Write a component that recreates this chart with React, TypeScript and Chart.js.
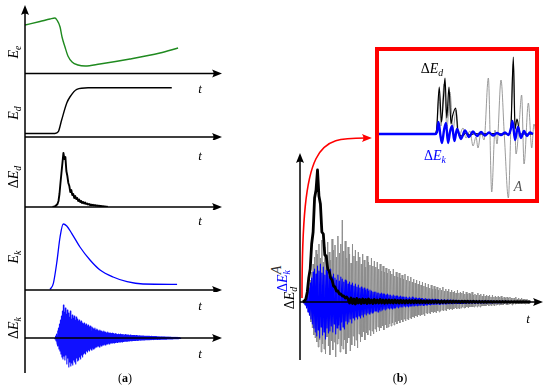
import React, { useEffect, useRef } from 'react';
import { Chart, registerables } from 'chart.js';
Chart.register(...registerables);

// ---------------- Panel (a) data (t in 0..100, values in arbitrary units) ----------------
const eeT = [0, 7.6, 12.7, 15.2, 16.2, 17.8, 18.8, 20.3, 21.8, 23.9, 26.9, 30.5, 38, 53.3, 68.5, 77.7];
const eeV = [48.5, 52, 54.5, 55.5, 53.5, 46.5, 36.5, 26.5, 17.5, 11.5, 8.5, 7.5, 9.5, 14.5, 20.5, 25.5];

const edT = [0, 15.2, 16.9, 18.6, 21.2, 22.8, 26.3, 32, 74.5];
const edV = [3.5, 3.5, 5.3, 17, 34, 40, 47.7, 49.3, 49.3];

const dEdT0 = 14;
const dEdDt = 0.5;
const dEdV = [0, 0.3, 0.6, 1, 2, 3, 6, 13, 24, 34, 44, 54, 48, 50, 36, 31, 24, 21, 15, 17, 12, 13, 9, 11, 8, 9, 6, 7.5, 5, 6,
  4, 5, 3.5, 4.5, 3, 3.5, 2.5, 3, 2, 2.5, 1.8, 2.2, 1.5, 2, 1.2, 1.6, 1, 1.3, 0.8, 1.1, 0.6, 0.9, 0.5, 0.6, 0.3, 0.4, 0];

const ekT = [12.7, 14.4, 16.1, 17.8, 19.4, 21.2, 23.7, 27.9, 33, 38.1, 44.7, 51.8, 59.9, 77.2];
const ekV = [0.5, 6.7, 27, 53, 66, 64, 56.7, 43, 30, 20, 13, 8.3, 6, 5.7];

const dEkT0 = 15;
const dEkDt = 0.25;
const dEkV = [
  0, -1, 2, -3, 4, -5, 7, -8, 10, -11, 14, -13, 18, -16, 22, -19, 27, -21, 33, -18,
  26, -22, 30, -17, 24, -26, 28, -20, 25, -29, 21, -24, 27, -28, 19, -25, 23, -27, 20, -22,
  22, -24, 18, -26, 21, -20, 19, -23, 17, -22, 18, -19, 16, -21, 17, -17, 15, -19, 14, -16,
  15, -15, 13, -16, 14, -13, 12, -14, 13, -12, 11, -13, 12, -11, 10, -12, 11, -10, 10, -11,
  9, -10, 10, -9, 8, -9, 9, -8, 8, -8, 7, -9, 8, -7, 7, -8, 7, -7, 6, -7,
  7, -6, 6, -7, 6, -6, 5, -6, 6, -5, 5, -6, 5, -5, 5, -5, 4.5, -5, 5, -4.5,
  4.5, -5, 4, -4.5, 4.5, -4, 4, -4.5, 3.5, -4, 4, -4, 3.5, -4, 4, -3.5, 3.5, -4, 3.5, -3.5,
  3.5, -3.5, 3, -3.5, 3.5, -3, 3, -3.5, 3, -3, 3, -3, 2.5, -3, 3, -2.5, 2.5, -3, 2.5, -2.5,
  2.5, -2.5, 2.5, -2.5, 2.2, -2.5, 2.5, -2.2, 2.2, -2.5, 2, -2.2, 2.2, -2, 2, -2.2, 2, -2, 2, -2,
  2, -2, 1.8, -2, 1.8, -1.8, 1.8, -1.8, 1.6, -1.8, 1.7, -1.7, 1.6, -1.8, 1.5, -1.6, 1.6, -1.6, 1.5, -1.5,
  1.5, -1.6, 1.4, -1.5, 1.5, -1.4, 1.4, -1.5, 1.3, -1.4, 1.4, -1.3, 1.3, -1.4, 1.2, -1.3, 1.3, -1.2, 1.2, -1.3,
  1.2, -1.2, 1.1, -1.2, 1.1, -1.1, 1, -1.1, 1, -1, 1, -1, 0.9, -1, 0.9, -0.9, 0.9, -0.9, 0.8, -0.9,
  0.8, -0.8, 0.8, -0.8, 0.7, -0.7, 0.7, -0.7, 0.6, -0.6, 0.6, -0.6, 0.5, -0.5, 0.5, -0.4, 0.3];

// ---------------- Panel (b) data ----------------
const bT0 = 1.2;
const bDt = 0.3;
const bGrayA = [
  1, -1, 2, -3, 4, -6, 8, -10, 15, -14, 22, -20, 30, -26, 38, -33, 45, -36, 52, -40,
  48, -45, 58, -38, 44, -50, 62, -42, 40, -47, 55, -52, 46, -35, 60, -44, 50, -53, 42, -39,
  63, -48, 52, -40, 57, -55, 45, -42, 66, -37, 49, -50, 58, -44, 82, -47, 51, -38, 61, -52,
  44, -41, 55, -36, 48, -49, 39, -43, 58, -34, 46, -44, 52, -38, 41, -46, 50, -32, 45, -40,
  38, -35, 48, -30, 42, -38, 35, -31, 46, -33, 40, -28, 37, -34, 44, -29, 36, -32, 41, -27,
  35, -30, 40, -25, 33, -29, 38, -26, 31, -24, 36, -28, 30, -23, 34, -26, 29, -25, 33, -22,
  31, -24, 28, -21, 33, -23, 26, -20, 30, -22, 25, -19, 29, -21, 24, -18, 27, -20, 23, -17,
  28, -19, 22, -17, 26, -18, 21, -16, 25, -17, 20, -15, 23, -16, 19, -14, 22, -15, 18, -13,
  21, -14, 17, -13, 20, -12, 16, -14, 19, -11, 15, -12, 18, -11, 14, -12, 17, -10, 13, -11,
  16, -10, 13, -11, 15, -9, 12, -10, 14, -9, 12, -8, 15, -9, 11, -8, 13, -9, 11, -7,
  13, -8, 10, -7, 12, -8, 10, -7, 11, -6, 9, -7, 12, -6, 9, -7, 10, -6, 9, -5,
  11, -6, 8, -6, 10, -5, 8, -6, 9, -5, 8, -5, 10, -5, 7, -5, 8, -4, 7, -5,
  9, -4, 7, -5, 8, -4, 6, -4, 8, -4, 6, -4, 7, -3, 6, -4, 7, -3, 5, -4,
  7, -3, 5, -4, 6, -3, 5, -3, 6, -3, 5, -3, 6, -3, 4, -3, 5, -2, 4, -3,
  5, -3, 4, -2, 5, -2, 4, -3, 4, -2, 4, -2, 5, -2, 3, -2, 4, -2, 3, -2,
  4, -2, 3, -1.5, 3, -2, 3, -1.5, 2.5, -1.5, 2, -1, 1];
const bBlueEk = [
  0, -1, 2, -3, 5, -6, 9, -10, 14, -13, 19, -17, 24, -22, 30, -26, 33, -30, 28, -34,
  36, -28, 31, -36, 38, -25, 29, -33, 35, -30, 27, -37, 32, -26, 30, -31, 26, -29, 33, -24,
  25, -30, 28, -22, 24, -32, 22, -26, 27, -23, 21, -28, 25, -20, 23, -25, 20, -27, 22, -19,
  21, -22, 18, -20, 20, -17, 17, -21, 19, -16, 16, -18, 18, -15, 15, -17, 17, -14, 14, -16,
  15, -13, 13, -15, 14, -12, 12, -13, 13, -11, 11, -12, 12, -10, 11, -11, 10, -10, 10, -9,
  10, -9, 9, -10, 9, -8, 8, -9, 9, -8, 8, -7, 8, -8, 7, -7, 8, -6, 7, -7,
  7, -6, 6, -7, 7, -6, 6, -6, 6, -5, 6, -6, 5, -5, 6, -5, 5, -5, 5, -4,
  5, -5, 5, -4, 4, -5, 5, -4, 4, -4, 5, -4, 4, -4, 4, -3.5, 4, -4, 3.5, -3.5,
  4, -3.5, 3.5, -3, 3.5, -3.5, 3, -3, 3.5, -3, 3, -3, 3, -2.5, 3, -3, 2.5, -2.5, 3, -2.5,
  2.5, -2.5, 3, -2.5, 2.5, -2, 2.5, -2.5, 2, -2, 2.5, -2, 2, -2, 2.5, -2, 2, -2, 2, -1.8,
  2, -1.8, 2, -1.6, 1.8, -1.8, 1.6, -1.6, 1.8, -1.5, 1.6, -1.6, 1.5, -1.5, 1.6, -1.4, 1.5, -1.5, 1.4, -1.4,
  1.5, -1.3, 1.4, -1.4, 1.3, -1.3, 1.4, -1.2, 1.3, -1.3, 1.2, -1.2, 1.3, -1.1, 1.2, -1.2, 1.1, -1.1, 1.2, -1,
  1.1, -1.1, 1, -1, 1.1, -1, 1, -1, 1, -0.9, 1, -0.9, 0.9, -0.9, 1, -0.8, 0.9, -0.9, 0.8, -0.8,
  0.9, -0.8, 0.8, -0.8, 0.8, -0.7, 0.8, -0.7, 0.7, -0.7, 0.8, -0.7, 0.7, -0.6, 0.7, -0.6, 0.6, -0.6, 0.7, -0.6,
  0.6, -0.6, 0.6, -0.5, 0.6, -0.5, 0.5, -0.5, 0.6, -0.5, 0.5, -0.5, 0.5, -0.4, 0.5, -0.4, 0.4, -0.4, 0.5, -0.4,
  0.4, -0.4, 0.4, -0.3, 0.4, -0.3, 0.3, -0.3, 0.3, -0.2, 0.2, -0.2, 0];
const bBlackT0 = 1.2;
const bBlackDt = 0.6;
const bBlackEd = [0, 1, 3, 10, 24, 33, 58, 70, 104, 112, 132, 106, 98, 70, 68, 47, 46, 33, 31, 24, 22, 16, 15, 11, 11, 8, 8, 6, 6, 4, 5,
  3, -1, 4, -1.5, 3, -2, 3.5, -1, 2.5, -1.5, 3, -1, 2.5, -1.5, 3, -1, 2, -1.5, 2.5, -1, 2, -1, 2.5, -1, 2, -1.2, 2, -1, 2, -0.8,
  1.8, -1, 2, -0.8, 1.6, -1, 1.8, -0.8, 1.5, -1, 1.6, -0.7, 1.5, -0.8, 1.4, -0.8, 1.5, -0.6, 1.3, -0.8, 1.4, -0.6, 1.2, -0.7, 1.3, -0.6, 1.2, -0.6, 1.1, -0.5,
  1.2, -0.5, 1, -0.6, 1.1, -0.5, 1, -0.5, 1, -0.4, 0.9, -0.5, 1, -0.4, 0.9, -0.4, 0.8, -0.5, 0.9, -0.4, 0.8, -0.4, 0.8, -0.3, 0.7, -0.4, 0.8, -0.3, 0.7, -0.3,
  0.7, -0.3, 0.6, -0.3, 0.7, -0.3, 0.6, -0.2, 0.6, -0.3, 0.5, -0.2, 0.6, -0.2, 0.5, -0.2, 0.5, -0.2, 0.5, -0.2, 0.4, -0.2, 0.4, -0.2, 0.4, -0.1, 0.4, -0.1, 0.3, -0.1, 0.3, -0.1, 0.3, -0.1, 0.2, 0];

// ---------------- Inset (zoom of the onset) ----------------
const inBlueT = [1.25, 36.25, 37.5, 38.4, 39.7, 40.6, 41.9, 43.1, 44.4, 45.6, 46.9, 48.4, 50, 52.5, 55, 57.5, 60, 62.5, 65, 67.5,
  70, 72.5, 75, 77.5, 80, 82.2, 83.75, 84.7, 86.25, 88.1, 90, 91.9, 93.75, 95.6, 97.5];
const inBlueV = [0, 0, 2, 12, -2, -9, 4, 11, -9, 2, 8, -7, 5, -5, 3.5, -3, 2.5, -2, 2, -1.5,
  1.5, -1.5, 1, -1, 1.5, -1, 6, 13, -6, 7, -4, 3, -2, 1.5, 0];
const inBlackT = [1.25, 36, 37.2, 38.9, 40.3, 41.6, 42.5, 43.6, 45, 46.25, 47.2, 49.2, 50.6, 53.1, 55.6, 58.1, 61.25, 64.4, 70.6, 82.5,
  83.75, 85.2, 86.25, 87.5, 89.4, 97.5];
const inBlackV = [0, 0, 4, 47, 12, 38, 56, 16, 47, 10, 18, 26, 2, -2, 1, -1, 0.5, 0, 0.5, 0,
  8, 77, 5, 15, 0, 0];
const inGrayT = [1.25, 36.25, 37.5, 38.75, 40, 41.9, 43.75, 45.6, 47.5, 49.4, 51.25, 53.75, 55.6, 58.1, 60, 61.9, 63.1, 65, 66.9, 69.6,
  71.7, 73.75, 75, 77.5, 79.7, 82.1, 83.75, 85.2, 86.9, 88.75, 90.4, 91.9, 94.6, 96.7, 98.1, 99.4];
const inGrayV = [0, 0, 5, 40, 8, 50, 6, 42, 4, 24, -2, 6, -4, 3, -12, -3, -14, 2, -6, 56,
  -58, 4, -10, 54, -5, -64, 10, 70, -20, 8, 39, -30, 31, -14, 10, 0];

// ---------------- helpers ----------------
const pts = (t: number[], v: number[]) => t.map((x, i) => ({ x, y: v[i] }));
const sampled = (t0: number, dt: number, v: number[]) => v.map((y, i) => ({ x: t0 + i * dt, y }));

function arrowHead(ctx: CanvasRenderingContext2D, x: number, y: number, angle: number) {
  ctx.save();
  ctx.translate(x, y);
  ctx.rotate(angle);
  ctx.beginPath();
  ctx.moveTo(0, 0);
  ctx.lineTo(-10, -4);
  ctx.quadraticCurveTo(-7, 0, -10, 4);
  ctx.closePath();
  ctx.fill();
  ctx.restore();
}

function axesPlugin(vArrow: boolean, vBottomArea: boolean) {
  return {
    id: 'axesArrows',
    afterDatasetsDraw(chart: any) {
      const { ctx, chartArea } = chart;
      const x0 = chart.scales.x.getPixelForValue(0);
      const y0 = chart.scales.y.getPixelForValue(0);
      ctx.save();
      ctx.strokeStyle = '#000';
      ctx.fillStyle = '#000';
      ctx.lineWidth = 1.5;
      const vTop = vArrow ? chartArea.top : 0;
      const vBot = vBottomArea ? chartArea.bottom : chart.height;
      ctx.beginPath();
      ctx.moveTo(x0, vBot);
      ctx.lineTo(x0, vArrow ? vTop + 7 : vTop);
      ctx.moveTo(x0, y0);
      ctx.lineTo(chartArea.right - 7, y0);
      ctx.stroke();
      arrowHead(ctx, chartArea.right, y0, 0);
      if (vArrow) arrowHead(ctx, x0, vTop, -Math.PI / 2);
      ctx.restore();
    },
  };
}

const redPath = [[0.82, 4], [0.82, 162], [7.4, 164], [29.6, 164]];
const redArrowPlugin = {
  id: 'redArrow',
  afterDatasetsDraw(chart: any) {
    const { ctx } = chart;
    const p = redPath.map(([x, y]) => [chart.scales.x.getPixelForValue(x), chart.scales.y.getPixelForValue(y)]);
    ctx.save();
    ctx.strokeStyle = '#ff0000';
    ctx.fillStyle = '#ff0000';
    ctx.lineWidth = 1.6;
    ctx.beginPath();
    ctx.moveTo(p[0][0], p[0][1]);
    ctx.bezierCurveTo(p[1][0], p[1][1], p[2][0], p[2][1], p[3][0] - 6, p[3][1]);
    ctx.stroke();
    arrowHead(ctx, p[3][0], p[3][1], 0);
    ctx.restore();
  },
};

const redBoxPlugin = {
  id: 'redBox',
  afterDatasetsDraw(chart: any) {
    const { ctx, chartArea } = chart;
    ctx.save();
    ctx.strokeStyle = '#ff0000';
    ctx.lineWidth = 4;
    ctx.strokeRect(chartArea.left, chartArea.top, chartArea.right - chartArea.left, chartArea.bottom - chartArea.top);
    ctx.restore();
  },
};

type PlotProps = {
  left: number; top: number; width: number; height: number;
  datasets: any[]; x: [number, number]; y: [number, number];
  padding: { left: number; right: number; top: number; bottom: number };
  plugins: any[];
};

function Plot({ left, top, width, height, datasets, x, y, padding, plugins }: PlotProps) {
  const ref = useRef<HTMLCanvasElement>(null);
  useEffect(() => {
    const chart = new Chart(ref.current as HTMLCanvasElement, {
      type: 'line',
      data: { datasets },
      options: {
        animation: false,
        responsive: false,
        events: [],
        layout: { padding },
        scales: {
          x: { type: 'linear', display: false, min: x[0], max: x[1] },
          y: { type: 'linear', display: false, min: y[0], max: y[1] },
        },
        plugins: { legend: { display: false }, tooltip: { enabled: false } },
        elements: { point: { radius: 0 } },
      },
      plugins,
    } as any);
    return () => chart.destroy();
  }, []);
  return (
    <canvas ref={ref} width={width} height={height}
      style={{ position: 'absolute', left, top, width, height }} />
  );
}

const FONT = "'Liberation Serif', 'DejaVu Serif', serif";

function Txt({ x, y, rot, color = '#000', size = 14, children }: any) {
  return (
    <div style={{
      position: 'absolute', left: x, top: y, color, fontSize: size, fontFamily: FONT,
      whiteSpace: 'nowrap', lineHeight: 1,
      transform: `translate(-50%, -50%)${rot ? ' rotate(-90deg)' : ''}`,
    }}>{children}</div>
  );
}

const Sym = ({ d, base = 'E', sub }: { d?: boolean; base?: string; sub?: string }) => (
  <span>
    {d ? <span>Δ</span> : null}
    <i>{base}</i>
    {sub ? <sub style={{ fontSize: '0.7em', verticalAlign: '-0.3em', fontStyle: 'italic' }}>{sub}</sub> : null}
  </span>
);

const line = (data: any[], color: string, width: number, smooth = false) => ({
  data, borderColor: color, borderWidth: width, fill: false, pointRadius: 0,
  borderJoinStyle: 'round',
  ...(smooth ? { cubicInterpolationMode: 'monotone' } : { tension: 0 }),
});

export default function App() {
  const aX: [number, number] = [0, 100];
  const aPad = (top: number, bottom: number) => ({ left: 15, right: 8, top, bottom });
  return (
    <div style={{ position: 'fixed', left: 0, top: 0, width: 550, height: 390, background: '#fff', overflow: 'hidden' }}>
      {/* Panel (a) */}
      <Plot left={10} top={0} width={220} height={80} x={aX} y={[0, 68.5]} padding={aPad(5, 6.5)}
        datasets={[line(pts(eeT, eeV), '#1f8a1f', 1.4, true)]} plugins={[axesPlugin(true, false)]} />
      <Plot left={10} top={80} width={220} height={60} x={aX} y={[0, 57]} padding={aPad(0, 3)}
        datasets={[line(pts(edT, edV), '#000', 1.4, true)]} plugins={[axesPlugin(false, false)]} />
      <Plot left={10} top={140} width={220} height={70} x={aX} y={[0, 67]} padding={aPad(0, 3)}
        datasets={[line(sampled(dEdT0, dEdDt, dEdV), '#000', 1.9)]} plugins={[axesPlugin(false, false)]} />
      <Plot left={10} top={210} width={220} height={82} x={aX} y={[0, 80]} padding={aPad(0, 2)}
        datasets={[line(pts(ekT, ekV), '#0000ff', 1.3, true)]} plugins={[axesPlugin(false, false)]} />
      <Plot left={10} top={292} width={220} height={82} x={aX} y={[-35, 46]} padding={aPad(0, 1)}
        datasets={[line(sampled(dEkT0, dEkDt, dEkV), '#1010ff', 1.1)]} plugins={[axesPlugin(false, true)]} />

      {/* Panel (b) main */}
      <Plot left={290} top={130} width={260} height={235} x={[0, 100]} y={[-58, 149]}
        padding={{ left: 10, right: 7, top: 23, bottom: 5 }}
        datasets={[
          line(sampled(bBlackT0, bBlackDt, bBlackEd), '#000', 2.8),
          line(sampled(bT0, bDt, bBlueEk), '#0000ff', 1.1),
          line(sampled(bT0, bDt, bGrayA), '#8c8c8c', 1.0),
        ]}
        plugins={[axesPlugin(true, true), redArrowPlugin]} />

      {/* Inset */}
      <Plot left={370} top={40} width={175} height={170} x={[0, 100]} y={[-67, 85]}
        padding={{ left: 7, right: 8, top: 9, bottom: 9 }}
        datasets={[
          line(pts(inBlueT, inBlueV), '#0000ff', 2.4, true),
          line(pts(inBlackT, inBlackV), '#000', 1.2, true),
          line(pts(inGrayT, inGrayV), '#8f8f8f', 0.9, true),
        ]}
        plugins={[redBoxPlugin]} />

      {/* Panel (a) texts */}
      <Txt x={15} y={52} rot><Sym sub="e" /></Txt>
      <Txt x={15} y={113} rot><Sym sub="d" /></Txt>
      <Txt x={15} y={177} rot><Sym d sub="d" /></Txt>
      <Txt x={15} y={257} rot><Sym sub="k" /></Txt>
      <Txt x={15} y={328} rot><Sym d sub="k" /></Txt>
      <Txt x={200} y={88} size={13}><i>t</i></Txt>
      <Txt x={200} y={155} size={13}><i>t</i></Txt>
      <Txt x={200} y={220} size={13}><i>t</i></Txt>
      <Txt x={200} y={305} size={13}><i>t</i></Txt>
      <Txt x={200} y={353} size={13}><i>t</i></Txt>
      <Txt x={125} y={378} size={12}>(<b>a</b>)</Txt>

      {/* Panel (b) texts */}
      <Txt x={277} y={270} rot color="#333"><i>A</i></Txt>
      <Txt x={284} y={281} rot color="#0000ff"><Sym d sub="k" /></Txt>
      <Txt x={291} y={298} rot><Sym d sub="d" /></Txt>
      <Txt x={528} y={318} size={13}><i>t</i></Txt>
      <Txt x={432} y={70}><Sym d sub="d" /></Txt>
      <Txt x={435} y={157} color="#0000ff"><Sym d sub="k" /></Txt>
      <Txt x={518} y={187} color="#555"><i>A</i></Txt>
      <Txt x={400} y={378} size={12}>(<b>b</b>)</Txt>
    </div>
  );
}
